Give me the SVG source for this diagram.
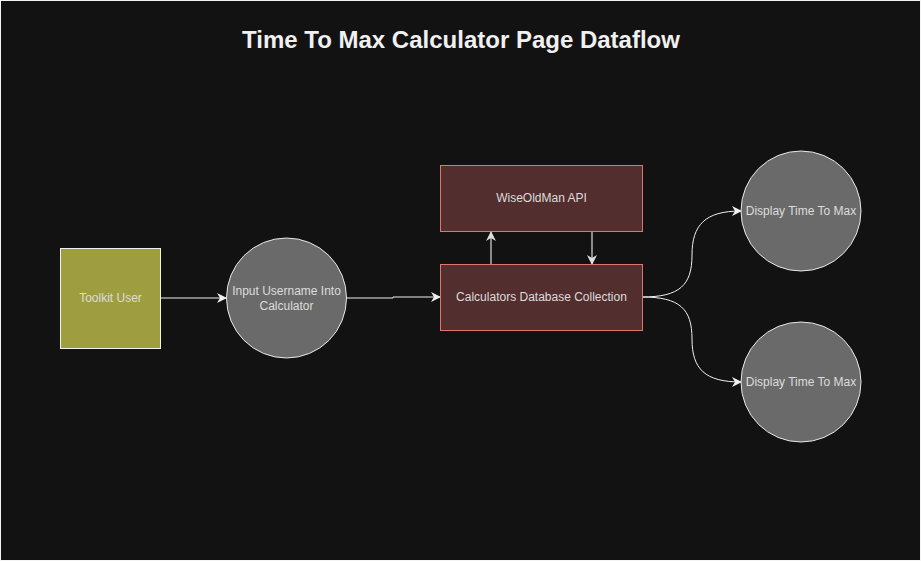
<svg xmlns="http://www.w3.org/2000/svg" width="921" height="561" viewBox="0 0 921 561">
<style>
.lbl{font-family:"Liberation Sans",Arial,sans-serif;font-size:12px;fill:#dcdcdc;text-anchor:middle}
.title{font-family:"Liberation Sans",Arial,sans-serif;font-size:24px;font-weight:bold;fill:#f0f0f0;text-anchor:middle}
.edge{fill:none;stroke:#f0f0f0;stroke-width:1}
.edge2{fill:none;stroke:#cccccc;stroke-width:1.3}
.circ{fill:#6a6a6a;stroke:#e8e8e8;stroke-width:1}
.box{fill:#532e2e;stroke:#e0756e;stroke-width:1}
</style>
<defs>
<marker id="ah" viewBox="0 0 10 10" refX="9" refY="5" markerWidth="10" markerHeight="10" markerUnits="userSpaceOnUse" orient="auto">
<path d="M0,0 L10,5 L0,10 L3,5 z" fill="#f0f0f0"/>
</marker>
<marker id="ah2" viewBox="0 0 10 10" refX="9" refY="5" markerWidth="10" markerHeight="10" markerUnits="userSpaceOnUse" orient="auto">
<path d="M0,0 L10,5 L0,10 L3,5 z" fill="#dddddd"/>
</marker>
</defs>
<rect x="0" y="0" width="921" height="561" fill="#f4f4f4"/>
<rect x="1" y="1" width="919" height="559" fill="#121212"/>
<text class="title" x="461" y="48">Time To Max Calculator Page Dataflow</text>
<g id="connectors">
<path class="edge" d="M160,298 L226,298" marker-end="url(#ah)"/>
<path class="edge" d="M346,298 L393,298 L393,297 L440,297" marker-end="url(#ah)"/>
<path class="edge2" d="M491,264 L491,232" marker-end="url(#ah2)"/>
<path class="edge2" d="M592,232 L592,264" marker-end="url(#ah2)"/>
<path class="edge" d="M642,297 C680,297 692,285 692,255 C692,225 705,211 741,211" marker-end="url(#ah)"/>
<path class="edge" d="M642,297 C680,297 692,309 692,339 C692,369 705,382 741,382" marker-end="url(#ah)"/>
</g>
<g id="toolkit-user">
<rect x="60.5" y="248.5" width="100" height="100" fill="#9e9e40" stroke="#f0f0f0"/>
<text class="lbl" x="110.5" y="302">Toolkit User</text>
</g>
<g id="input-username">
<circle class="circ" cx="286.5" cy="298" r="60"/>
<text class="lbl" x="286.5" y="295">Input Username Into</text>
<text class="lbl" x="286.5" y="310">Calculator</text>
</g>
<g id="wiseoldman-api">
<rect class="box" x="440.5" y="165.5" width="202" height="66"/>
<text class="lbl" x="541.5" y="202">WiseOldMan API</text>
</g>
<g id="calculators-db">
<rect class="box" x="440.5" y="264.5" width="202" height="66"/>
<text class="lbl" x="541.5" y="301">Calculators Database Collection</text>
</g>
<g id="display-1">
<circle class="circ" cx="801" cy="211" r="60"/>
<text class="lbl" x="801" y="215">Display Time To Max</text>
</g>
<g id="display-2">
<circle class="circ" cx="801" cy="382" r="60"/>
<text class="lbl" x="801" y="386">Display Time To Max</text>
</g>
</svg>
